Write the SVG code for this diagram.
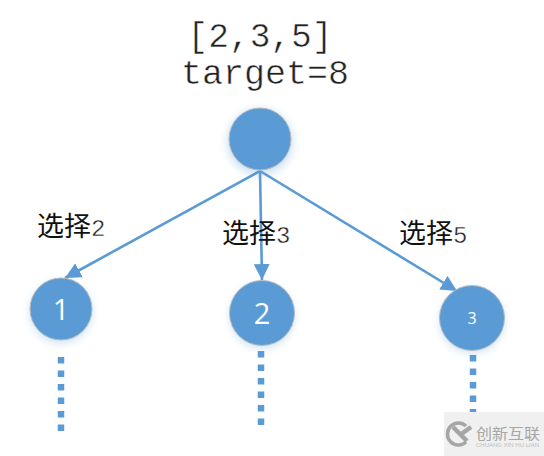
<svg xmlns="http://www.w3.org/2000/svg" width="544" height="456" viewBox="0 0 544 456">
<style>
.c{fill:#5b9bd5;stroke:#b9bcc0;stroke-width:1}
.l{fill:none;stroke:#5b9bd5;stroke-width:2.6}
.d{fill:none;stroke:#5b9bd5;stroke-width:6.5;stroke-dasharray:6.5 7}
.m{font-family:"Liberation Mono",monospace;fill:#222;stroke:#fff;stroke-width:.5}
.t{font-family:"Noto Sans CJK SC","Liberation Sans",sans-serif;font-size:27px;fill:#111}
.s{font-family:"Liberation Mono",monospace;font-size:24px;fill:#222;stroke:#fff;stroke-width:.4}
.n{font-family:"Open Sans","Liberation Sans",sans-serif;fill:#fff;text-anchor:middle}
</style>
<defs>
<marker id="a" markerUnits="userSpaceOnUse" markerWidth="17" markerHeight="16" refX="16" refY="8" orient="auto"><path d="M0 0L16 8L0 16Z" fill="#5b9bd5"/></marker>
<filter id="g" x="-30%" y="-30%" width="160%" height="170%"><feGaussianBlur stdDeviation="4"/></filter>
</defs>
<rect id="bg" width="544" height="456" fill="#fff"/>
<g id="title">
<text class="m" x="260" y="47" font-size="34.5" text-anchor="middle">[2,3,5]</text>
<text class="m" x="265" y="84" font-size="35" text-anchor="middle">target=8</text>
</g>
<g id="connectors">
<path class="l" d="M260 171L65 278" marker-end="url(#a)"/>
<path class="l" d="M260 171L262 280" marker-end="url(#a)"/>
<path class="l" d="M260 171L457 291" marker-end="url(#a)"/>
<path class="d" d="M61 357V431"/>
<path class="d" d="M261 351V426"/>
<path class="d" d="M473 355V412"/>
</g>
<g id="root"><circle cx="260" cy="142" r="33" fill="#5b9bd5" opacity=".3" filter="url(#g)"/><circle class="c" cx="260" cy="139" r="31"/></g>
<g id="node1"><circle cx="61" cy="312" r="31" fill="#5b9bd5" opacity=".3" filter="url(#g)"/><circle class="c" cx="61" cy="309" r="31"/><text class="n" x="61" y="320" font-size="29" font-weight="500">1</text></g>
<g id="node2"><circle cx="262" cy="316" r="32" fill="#5b9bd5" opacity=".3" filter="url(#g)"/><circle class="c" cx="262" cy="313" r="32.5"/><text class="n" x="262" y="324" font-size="29" font-weight="500">2</text></g>
<g id="node3"><circle cx="472" cy="321" r="32" fill="#5b9bd5" opacity=".3" filter="url(#g)"/><circle class="c" cx="472" cy="318" r="32.5"/><text class="n" x="472" y="324" font-size="16">3</text></g>
<g id="labels">
<text class="t" x="37" y="236">选择<tspan class="s">2</tspan></text>
<text class="t" x="222" y="243">选择<tspan class="s">3</tspan></text>
<text class="t" x="399" y="243">选择<tspan class="s">5</tspan></text>
</g>
<g id="watermark">
<rect x="444" y="412" width="100" height="44" fill="#f0f0f0"/>
<path d="M466 426A11 11 0 1 0 466 442" fill="none" stroke="#a6a6a6" stroke-width="3.5"/>
<path d="M453 427L467 441M471 427L460 435" stroke="#a6a6a6" stroke-width="4.5" fill="none"/>
<text x="476" y="439" textLength="64" lengthAdjust="spacingAndGlyphs" font-family="'Noto Sans CJK SC',sans-serif" font-size="15" fill="#a6a6a6">创新互联</text>
<text x="476" y="447" textLength="63" lengthAdjust="spacingAndGlyphs" font-family="'Liberation Sans',sans-serif" font-size="4.5" fill="#bdbdbd">CHUANG XIN HU LIAN</text>
</g>
</svg>
